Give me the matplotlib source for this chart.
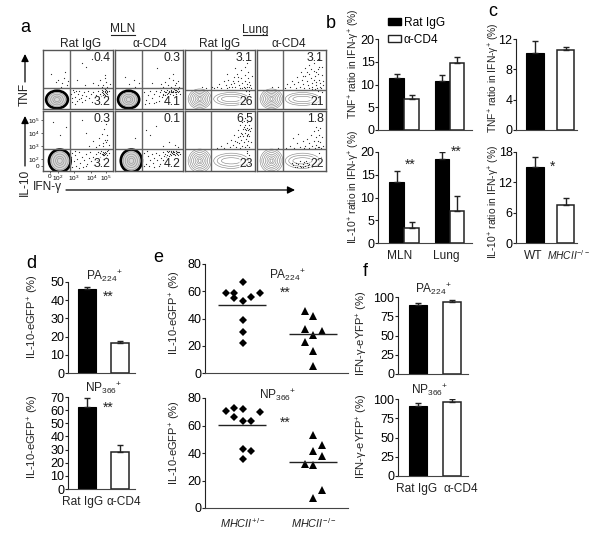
import matplotlib
matplotlib.use('Agg')
import matplotlib.pyplot as plt
from matplotlib.patches import Ellipse, Patch

plt.rcParams['font.family'] = ['Liberation Sans', 'DejaVu Sans']
plt.rcParams['mathtext.fontset'] = 'custom'
plt.rcParams['mathtext.rm'] = 'Liberation Sans'
plt.rcParams['mathtext.it'] = 'Liberation Sans:italic'
plt.rcParams['mathtext.default'] = 'regular'

W, H = 600, 535
FS = 8.6
DARK = '#222222'

# panel b
b_top_black = [11.5, 10.7]
b_top_black_err = [0.7, 1.3]
b_top_white = [6.9, 14.7]
b_top_white_err = [0.7, 1.3]
b_bot_black = [13.3, 18.5]
b_bot_black_err = [2.5, 1.4]
b_bot_white = [3.4, 7.0]
b_bot_white_err = [1.2, 3.3]
b_groups = ['MLN', 'Lung']

# panel c
c_top_vals = [10.2, 10.5]
c_top_err = [1.5, 0.4]
c_bot_vals = [15.0, 7.6]
c_bot_err = [2.0, 1.3]
c_groups = ['WT', r'$\mathit{MHCII}^{-/-}$']

# panel d
d_top_vals = [46.3, 16.7]
d_top_err = [1.0, 1.1]
d_bot_vals = [62.4, 28.3]
d_bot_err = [6.6, 5.5]

# panel f
f_top_vals = [89.6, 94.0]
f_top_err = [3.0, 2.0]
f_bot_vals = [91.0, 96.0]
f_bot_err = [4.0, 4.0]
treatments = ['Rat IgG', 'α-CD4']

# panel e
e_top_dia_x = [0.76, 0.88, 1.0, 0.88, 1.0, 1.12, 1.24, 1.0, 1.0, 1.0]
e_top_dia_y = [59, 59, 66.5, 55, 53, 55.5, 59, 39, 30, 22]
e_top_tri_x = [1.88, 2.0, 1.88, 2.12, 2.0, 1.88, 2.0, 2.0]
e_top_tri_y = [45.3, 42, 32.3, 30.6, 28, 22.6, 16, 5.5]
e_top_means = [50.2, 28.5]
e_bot_dia_x = [0.76, 0.88, 1.0, 1.24, 0.88, 1.0, 1.12, 1.0, 1.12, 1.0]
e_bot_dia_y = [70.8, 73, 72, 69.6, 66, 63.3, 63.3, 43, 41.3, 35.8]
e_bot_tri_x = [2.0, 2.12, 2.0, 2.12, 1.88, 2.0, 2.12, 2.0]
e_bot_tri_y = [53, 45.6, 41.3, 37.7, 32, 31.4, 13, 7.5]
e_bot_means = [60.3, 33.5]
e_groups = [r'$\mathit{MHCII}^{+/-}$', r'$\mathit{MHCII}^{-/-}$']

# panel a, percentages in the quadrants
a_top_right = ['0.4', '0.3', '3.1', '3.1', '0.3', '0.1', '6.5', '1.8']
a_bot_right = ['3.2', '4.1', '26', '21', '3.2', '4.2', '23', '22']
a_columns = ['Rat IgG', 'α-CD4', 'Rat IgG', 'α-CD4']

# panel a, dots (percent of plot width / height)
dots_mln_1 = [(22,50),(27,44),(30,53),(34,40),(18,45),(36,47),(25,38),(12,60),(32,62),(55,78),(62,72),(70,85),
              (48,50),(60,40),(72,44),(82,50),(88,58),(90,46),(86,40),(92,38),(84,37),(95,42),(89,52),(78,40),
              (40,25),(42,18),(44,28),(46,21),(48,14),(50,25),(52,30),(54,19),(56,24),(58,28),(60,16),(62,22),
              (64,30),(66,19),(68,25),(70,12),(72,28),(74,20),(76,24),(78,30),(80,17),(82,26),(84,32),(86,23),
              (88,28),(90,33),(92,25),(94,30),(86,30),(89,24),(91,29),(85,27),(88,34),(93,22),(83,22),(41,12),
              (45,9),(38,32),(43,33),(47,31),(51,17),(55,12),(87,26),(90,27),(84,29),(92,31),(87,36),(89,31)]
dots_mln_2 = [(20,42),(28,50),(35,44),(15,55),(30,38),(40,48),(62,70),(55,44),(68,42),(74,46),(80,52),(85,60),
              (90,44),(78,40),(70,38),(88,40),(94,38),(83,38),(75,36),(66,36),(92,48),(86,50),
              (40,22),(43,28),(46,15),(49,24),(52,31),(55,18),(58,26),(61,30),(64,22),(66,28),(68,33),(70,26),
              (72,31),(74,24),(75,29),(77,33),(78,27),(80,31),(81,25),(83,33),(84,28),(85,31),(86,24),(87,34),
              (88,29),(89,32),(90,26),(91,30),(92,34),(93,28),(94,31),(95,26),(82,29),(79,29),(76,26),(73,28),
              (71,23),(69,20),(65,14),(60,12),(57,10),(50,10),(44,9),(86,29),(88,33),(90,29),(83,30),(80,28)]
dots_lung_1 = [(45,38),(48,42),(52,36),(55,47),(58,40),(60,35),(62,50),(65,42),(67,37),(70,55),(70,44),(72,38),
               (74,60),(75,48),(77,40),(78,36),(80,66),(80,52),(82,44),(84,38),(85,72),(85,58),(86,48),(88,42),
               (88,37),(90,62),(90,52),(92,46),(93,40),(94,36),(82,36),(86,35),(91,37),(76,54),(68,48),(63,38),
               (42,36),(38,38),(30,36),(24,37),(95,56),(88,78),(72,70),(60,60),(89,33),(92,30),(91,26),(87,30)]
dots_lung_2 = [(40,36),(44,42),(48,38),(50,48),(54,42),(56,36),(58,55),(60,46),(62,38),(64,62),(65,50),(67,42),
               (68,36),(70,70),(70,56),(72,48),(74,40),(75,36),(76,74),(76,60),(78,52),(80,44),(80,38),(82,78),
               (82,64),(84,56),(85,46),(86,40),(87,36),(88,84),(88,68),(89,60),(90,50),(91,44),(92,38),(93,36),
               (94,72),(94,58),(95,48),(96,40),(78,68),(72,62),(66,56),(83,50),(90,72),(86,62),(30,37),(22,38),
               (92,32),(89,30),(94,28),(84,34),(79,34)]
dots_mln_3 = [(24,60),(33,74),(14,82),(55,85),(62,64),(72,50),(80,55),(84,62),(87,70),(90,78),(88,52),(92,60),
              (85,46),(90,48),(94,44),(80,44),(86,42),(75,40),(66,42),(92,52),
              (40,24),(42,30),(44,16),(46,26),(47,9),(49,20),(51,31),(53,14),(55,24),(57,7),(59,18),(61,28),
              (63,12),(65,22),(67,32),(69,16),(71,24),(73,10),(75,28),(77,18),(79,32),(81,24),(83,34),(84,28),
              (85,20),(86,32),(87,26),(88,36),(89,29),(90,23),(91,33),(92,27),(93,35),(94,30),(87,30),(85,26),
              (82,30),(41,6),(45,34),(52,5),(61,8),(90,30),(88,32),(86,28)]
dots_mln_4 = [(60,75),(45,68),(30,55),(52,60),(80,48),(88,44),(70,42),(93,40),
              (40,20),(43,30),(46,12),(48,25),(50,8),(52,18),(54,28),(56,14),(58,22),(60,30),(62,18),(64,26),
              (66,12),(68,22),(70,31),(72,25),(74,29),(76,33),(77,27),(78,31),(79,25),(80,34),(81,29),(82,32),
              (83,26),(84,30),(85,34),(86,28),(87,32),(88,26),(89,30),(90,34),(91,28),(92,31),(93,26),(94,32),
              (95,29),(85,31),(83,33),(87,29),(89,33),(91,31),(75,24),(71,18),(65,9),(58,7),(47,34),(42,8)]
dots_lung_3 = [(46,38),(52,42),(56,38),(60,47),(64,40),(66,52),(68,44),(70,60),(72,50),(73,40),(75,68),(76,56),
               (77,46),(78,38),(79,76),(80,64),(80,52),(81,42),(82,82),(83,70),(83,58),(84,48),(85,40),(85,88),
               (86,76),(86,64),(87,54),(88,44),(88,72),(89,82),(89,60),(90,50),(90,68),(91,76),(91,40),(92,58),
               (93,66),(93,84),(94,72),(94,48),(82,62),(84,74),(87,68),(78,58),(74,48),(90,62),(88,58),(92,70),
               (86,70),(40,37),(35,37),(88,30),(92,26),(90,20),(91,12),(89,34)]
dots_lung_4 = [(42,38),(48,42),(54,38),(58,46),(62,40),(66,50),(70,42),(72,54),(75,46),(78,60),(80,42),(82,66),
               (82,50),(85,74),(85,56),(86,44),(88,68),(88,50),(90,60),(90,40),(92,72),(92,48),(94,56),(95,42),
               (76,38),(84,38),(68,38),(52,55),(60,62),(30,38),(88,40),(93,38),(90,30),(93,24),
               (52,10),(56,14),(58,7),(60,12),(62,16),(64,6),(66,11),(68,15),(70,8),(72,13),(74,6),(76,11),
               (78,16),(80,7),(62,9),(67,7),(55,7),(71,16),(74,10),(50,14)]
dots_by_plot = [dots_mln_1, dots_mln_2, dots_lung_1, dots_lung_2, dots_mln_3, dots_mln_4, dots_lung_3, dots_lung_4]

# gates: vertical, horizontal (percent)
gate_x = [39, 40, 37.5, 37, 39, 40, 37.5, 37]
gate_y = [35, 35, 33, 33, 37, 37, 36, 36]

# contour rings of main population (width, height, as percent)
mln_rings = [(24, 24), (18, 18), (12, 12), (7, 7)]
lung_rings = [(33, 34), (28, 29), (23, 24), (18, 19), (13, 14), (8, 9), (4, 5)]
lung_right_rings = [(50, 22), (40, 16), (28, 9)]

fig = plt.figure(figsize=(W / 100, H / 100), dpi=100)


def px_axes(x0, x1, ytop, ybot):
    return fig.add_axes([x0 / W, 1 - ybot / H, (x1 - x0) / W, (ybot - ytop) / H])


def bar_axes(box, ymax, yticks, ylabel, label_xy, label_fs=8.0):
    ax = px_axes(*box)
    ax.set_ylim(0, ymax)
    ax.set_yticks(yticks)
    ax.spines['top'].set_visible(False)
    ax.spines['right'].set_visible(False)
    ax.spines['left'].set_color(DARK)
    ax.spines['bottom'].set_color('#444444')
    ax.tick_params(axis='y', length=2, width=0.8, pad=0.5, labelsize=FS + 0.4, color=DARK)
    ax.tick_params(axis='x', length=0, labelsize=FS)
    ax.set_ylabel(ylabel, fontsize=label_fs, labelpad=0, color=DARK)
    ax.yaxis.set_label_coords(label_xy[0], label_xy[1])
    ax.set_xticks([])
    return ax


def draw_pair(ax, x, black, black_err, white, white_err, width, labels=None, ticks=None, label_fs=FS):
    err_kw = dict(elinewidth=1, capthick=1, capsize=2.5, ecolor=DARK)
    xb, xw = x
    ax.bar(xb, black, width, color='black', edgecolor='black', linewidth=0.8,
           yerr=[[0] * len(black), black_err], error_kw=err_kw)
    ax.bar(xw, white, width, color='white', edgecolor=DARK, linewidth=1.1,
           yerr=[[0] * len(white), white_err], error_kw=err_kw)
    if labels is not None:
        ax.set_xticks(ticks)
        ax.set_xticklabels(labels, fontsize=label_fs, color=DARK)
        ax.tick_params(axis='x', pad=5)


tnf_lab = 'TNF$^{+}$ ratio in IFN-γ$^{+}$ (%)'
il_lab = 'IL-10$^{+}$ ratio in IFN-γ$^{+}$ (%)'
gfp_lab = 'IL-10-eGFP$^{+}$ (%)'
yfp_lab = 'IFN-γ-eYFP$^{+}$ (%)'
RATIO_FS = 7.4

# ---- flow plots (a)
col_x = [(43, 113), (115, 183), (185, 255), (257, 326)]
row_y = [(50, 109), (111, 171)]
i = 0
for r in range(2):
    for c in range(4):
        ax = px_axes(col_x[c][0], col_x[c][1], row_y[r][0], row_y[r][1])
        ax.set_xlim(0, 100)
        ax.set_ylim(0, 100)
        ax.set_xticks([])
        ax.set_yticks([])
        for s in ax.spines.values():
            s.set_color('#555555')
            s.set_linewidth(1.0)
        xs = [d[0] for d in dots_by_plot[i]]
        ys = [d[1] for d in dots_by_plot[i]]
        ax.plot(xs, ys, ls='', marker='s', ms=0.8, mew=0, color='#333333')
        ax.axvline(gate_x[i], color='#666666', lw=1.0)
        ax.axhline(gate_y[i], color='#666666', lw=1.0)
        if c < 2:
            cx, cy = (20, 16) if r == 0 else (24, 17)
            sy = 1.0 if r == 0 else 1.25
            ax.add_patch(Ellipse((cx, cy), 31, 30 * sy, fc='#d8d8d8', ec='black', lw=1.9))
            for w_, h_ in mln_rings:
                ax.add_patch(Ellipse((cx, cy), w_, h_ * sy, fc='none', ec='#999999', lw=0.5))
        else:
            sy = 1.0 if r == 0 else 1.15
            for w_, h_ in lung_rings:
                ax.add_patch(Ellipse((21, 17), w_, h_ * sy, fc='none', ec='#8a8a8a', lw=0.45))
            for w_, h_ in lung_right_rings:
                ax.add_patch(Ellipse((66, 17), w_, h_ * sy, fc='none', ec='#8a8a8a', lw=0.45))
        ax.text(97, 86, a_top_right[i], ha='right', va='center', fontsize=FS + 0.2, color=DARK)
        ax.text(97, 12, a_bot_right[i], ha='right', va='center', fontsize=FS + 0.2, color=DARK,
                bbox=dict(fc='white', ec='none', pad=0.3, alpha=0.6))
        if i == 4:
            ax.set_xticks([10, 21, 44, 69, 90])
            ax.set_xticklabels(['0', '10$^{2}$', '10$^{3}$', '10$^{4}$', '10$^{5}$'], fontsize=4.6)
            ax.set_yticks([8, 20, 42, 63, 85])
            ax.set_yticklabels(['0', '10$^{2}$', '10$^{3}$', '10$^{4}$', '10$^{5}$'], fontsize=4.6)
            ax.tick_params(length=1.5, width=0.5, pad=0.8, color=DARK)
        i += 1

# ---- b
ax = bar_axes((378, 472, 39, 130), 20, [0, 5, 10, 15, 20], tnf_lab, (-0.17, 0.725), RATIO_FS)
ax.set_xlim(378, 472)
draw_pair(ax, ([396.5, 442], [411.5, 457]), b_top_black, b_top_black_err, b_top_white, b_top_white_err, 14.5)
ax.legend(handles=[Patch(fc='black', ec='black', label='Rat IgG'),
                   Patch(fc='white', ec=DARK, label='α-CD4')],
          loc='upper left', bbox_to_anchor=(388 / W, 1 - 17 / H), bbox_transform=fig.transFigure,
          frameon=False, fontsize=FS, handlelength=1.1, handleheight=0.5, handletextpad=0.2,
          labelspacing=0.4, borderpad=0, borderaxespad=0)

ax = bar_axes((378, 472, 152, 243), 20, [0, 5, 10, 15, 20], il_lab, (-0.17, 0.615), RATIO_FS)
ax.set_xlim(378, 472)
draw_pair(ax, ([396.5, 442], [411.5, 457]), b_bot_black, b_bot_black_err, b_bot_white, b_bot_white_err, 14.5,
          b_groups, [400, 446])

# ---- c
ax = bar_axes((516, 577, 39, 130), 12, [0, 4, 8, 12], tnf_lab, (-0.23, 0.58), RATIO_FS)
ax.set_xlim(516, 577)
draw_pair(ax, ([535], [565.5]), c_top_vals[:1], c_top_err[:1], c_top_vals[1:], c_top_err[1:], 17.5)

ax = bar_axes((516, 577, 152, 243), 18, [0, 6, 12, 18], il_lab, (-0.23, 0.45), RATIO_FS)
ax.set_xlim(516, 577)
draw_pair(ax, ([535], [565.5]), c_bot_vals[:1], c_bot_err[:1], c_bot_vals[1:], c_bot_err[1:], 17.5)

# ---- d
ax = bar_axes((68, 135, 282, 373), 50, [0, 10, 20, 30, 40, 50], gfp_lab, (-0.40, 0.615))
ax.set_xlim(68, 135)
draw_pair(ax, ([87], [120]), d_top_vals[:1], d_top_err[:1], d_top_vals[1:], d_top_err[1:], 18)

ax = bar_axes((68, 135, 397, 489), 70, [0, 10, 20, 30, 40, 50, 60, 70], gfp_lab, (-0.40, 0.565))
ax.set_xlim(68, 135)
draw_pair(ax, ([87], [120]), d_bot_vals[:1], d_bot_err[:1], d_bot_vals[1:], d_bot_err[1:], 18,
          treatments, [83, 124])

# ---- f
ax = bar_axes((398, 468, 297, 374), 100, [0, 25, 50, 75, 100], yfp_lab, (-0.40, 0.53))
ax.set_xlim(398, 468)
draw_pair(ax, ([418], [452]), f_top_vals[:1], f_top_err[:1], f_top_vals[1:], f_top_err[1:], 18)

ax = bar_axes((398, 468, 399, 476), 100, [0, 25, 50, 75, 100], yfp_lab, (-0.40, 0.51))
ax.set_xlim(398, 468)
draw_pair(ax, ([418], [452]), f_bot_vals[:1], f_bot_err[:1], f_bot_vals[1:], f_bot_err[1:], 18,
          treatments, [417, 461])


# ---- e
def dot_axes(box, dx, dy, tx, ty, means, label_y, labels=False):
    ax = bar_axes(box, 80, [0, 20, 40, 60, 80], gfp_lab, (-0.154, label_y))
    ax.set_xlim(0.47, 2.49)
    ax.plot(dx, dy, ls='', marker='D', ms=4.4, color='black', mew=0)
    ax.plot(tx, ty, ls='', marker='^', ms=5.6, color='black', mew=0)
    ax.hlines(means, [0.66, 1.66], [1.33, 2.33], color=DARK, lw=1.0)
    if labels:
        ax.set_xticks([1, 2])
        ax.set_xticklabels(e_groups, fontsize=FS - 0.8, color=DARK)
        ax.tick_params(axis='x', pad=6)
    return ax


dot_axes((205, 348, 264, 373), e_top_dia_x, e_top_dia_y, e_top_tri_x, e_top_tri_y, e_top_means, 0.55)
dot_axes((205, 348, 398, 508), e_bot_dia_x, e_bot_dia_y, e_bot_tri_x, e_bot_tri_y, e_bot_means, 0.59, labels=True)

# ---- overlay in pixel coordinates for labels and arrows
ov = fig.add_axes([0, 0, 1, 1], zorder=10)
ov.set_xlim(0, W)
ov.set_ylim(H, 0)
ov.axis('off')
ov.patch.set_alpha(0)

for lab, x, y in [('a', 25, 27), ('b', 331, 24), ('c', 493, 11), ('d', 31, 264),
                  ('e', 158, 258), ('f', 365, 272)]:
    ov.text(x, y, lab, fontsize=13, ha='center', va='center', color='black')

ov.text(533, 256, c_groups[0], fontsize=FS, ha='center', va='center', color=DARK)
ov.text(569, 255, c_groups[1], fontsize=FS - 1.2, ha='center', va='center', color=DARK)

for x, lab in zip([81, 150, 220, 289], a_columns):
    ov.text(x, 44, lab, fontsize=FS, ha='center', va='center', color=DARK)
for x, lab, half in [(123, 'MLN', 12), (255, 'Lung', 12)]:
    ov.text(x, 29.5, lab, fontsize=FS, ha='center', va='center', color=DARK)
    ov.plot([x - half, x + half], [34.5, 34.5], color=DARK, lw=0.8)

ov.text(25, 94, 'TNF', rotation=90, fontsize=FS, ha='center', va='center', color=DARK)
ov.text(25, 182, 'IL-10', rotation=90, fontsize=FS, ha='center', va='center', color=DARK)
ov.text(47, 187, 'IFN-γ', fontsize=FS, ha='center', va='center', color=DARK)
arrow = dict(arrowstyle='-|>', color='black', lw=0.9, mutation_scale=11, shrinkA=0, shrinkB=0)
ov.annotate('', xy=(25, 54), xytext=(25, 82), arrowprops=arrow)
ov.annotate('', xy=(25, 116), xytext=(25, 166), arrowprops=arrow)
ov.annotate('', xy=(295, 190), xytext=(66, 190), arrowprops=arrow)

for x, y, star in [(410, 165, '**'), (456, 152, '**'), (553, 167, '*'), (108, 297, '**'),
                   (108, 408, '**'), (285, 293, '**'), (285, 423, '**')]:
    ov.text(x, y, star, fontsize=10, ha='center', va='center', color=DARK)

for x, y, lab in [(104, 276, 'PA$_{224}$$^{+}$'), (104, 388, 'NP$_{366}$$^{+}$'),
                  (287, 275, 'PA$_{224}$$^{+}$'), (278, 395, 'NP$_{366}$$^{+}$'),
                  (433, 289, 'PA$_{224}$$^{+}$'), (430, 390, 'NP$_{366}$$^{+}$')]:
    ov.text(x, y, lab, fontsize=FS, ha='center', va='center', color=DARK)

fig.savefig('out.png', dpi=100, facecolor='white')
